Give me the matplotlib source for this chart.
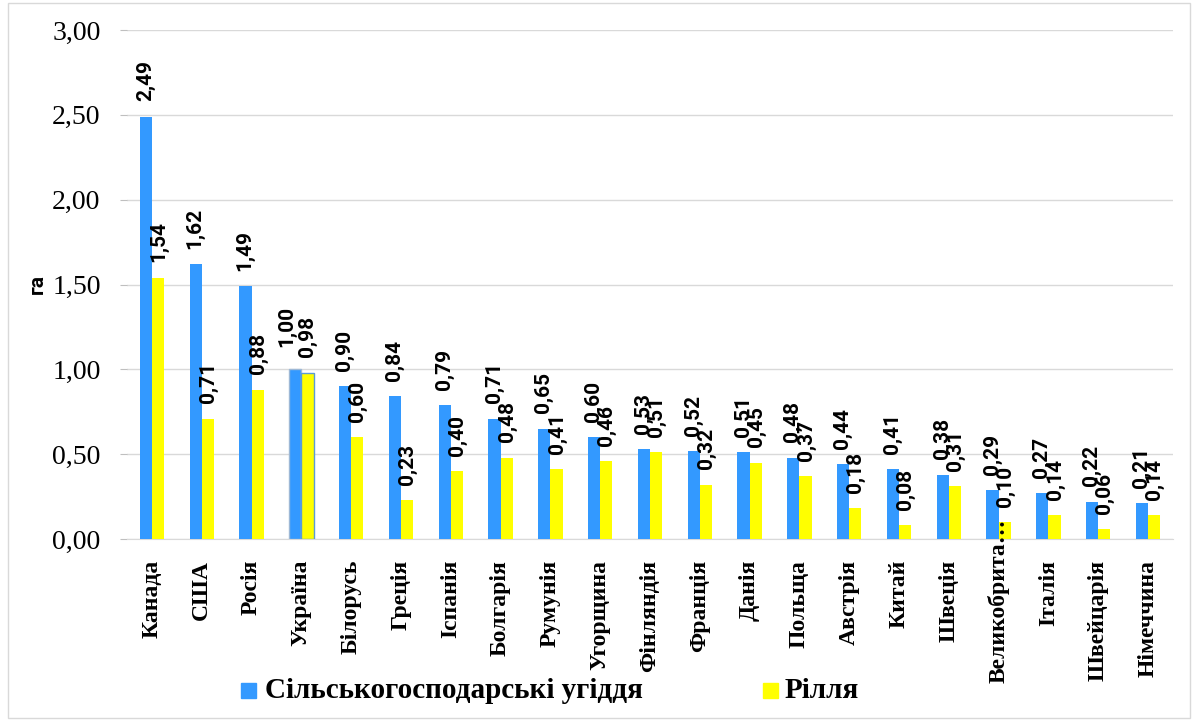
import matplotlib
matplotlib.use("Agg")
import matplotlib.pyplot as plt
from matplotlib.patches import Rectangle
from matplotlib.font_manager import FontProperties
from matplotlib.transforms import blended_transform_factory
import numpy as np

categories = ["Канада", "США", "Росія", "Україна", "Білорусь", "Греція", "Іспанія",
              "Болгарія", "Румунія", "Угорщина", "Фінляндія", "Франція", "Данія",
              "Польща", "Австрія", "Китай", "Швеція", "Великобрита…", "Італія",
              "Швейцарія", "Німеччина"]
agri = [2.49, 1.62, 1.49, 1.00, 0.90, 0.84, 0.79, 0.71, 0.65, 0.60, 0.53, 0.52, 0.51,
        0.48, 0.44, 0.41, 0.38, 0.29, 0.27, 0.22, 0.21]
arable = [1.54, 0.71, 0.88, 0.98, 0.60, 0.23, 0.40, 0.48, 0.41, 0.46, 0.51, 0.32, 0.45,
          0.37, 0.18, 0.08, 0.31, 0.10, 0.14, 0.06, 0.14]
series_names = ["Сільськогосподарські угіддя", "Рілля"]
yticks = [0, 0.5, 1.0, 1.5, 2.0, 2.5, 3.0]

blue = "#3399FF"
yellow = "#FFFF00"

serif_b = FontProperties(family="Liberation Serif", weight="bold")
serif = FontProperties(family="Liberation Serif")

fig = plt.figure(figsize=(11.92, 7.21), dpi=100)
ax = fig.add_axes([127/1192, 1-539/721, (1173-127)/1192, (539-30)/721])

x = np.arange(len(categories))
w = 0.245
b1 = ax.bar(x - w/2, agri, w, color=blue, zorder=3)
b2 = ax.bar(x + w/2, arable, w, color=yellow, zorder=3)
ui = categories.index("Україна")
b1[ui].set_edgecolor("#9DB8D6"); b1[ui].set_linewidth(1.0)
b2[ui].set_edgecolor("#5B9BD5"); b2[ui].set_linewidth(1.0)

fmt = lambda v: f"{v:.2f}".replace(".", ",")
lab_kw = dict(rotation=90, ha="center", va="bottom", fontsize=15, fontweight="bold",
              family=["Roboto", "DejaVu Sans"], zorder=4)
for i, (xi, v) in enumerate(zip(x, agri)):
    dx = -0.17 if i == ui else -0.01
    dy = 0.13 if i == ui else 0.09
    ax.text(xi - w/2 + dx, v + dy, fmt(v), **lab_kw)
for i, (xi, v) in enumerate(zip(x, arable)):
    ax.text(xi + w/2 + 0.01, v + 0.09, fmt(v), **lab_kw)

ax.set_xlim(-0.5, len(categories) - 0.5)
ax.set_ylim(0, 3.0)
ax.set_yticks(yticks)
ax.set_yticklabels([fmt(t) for t in yticks])
for t in ax.get_yticklabels():
    t.set_fontproperties(serif); t.set_fontsize(20)
ax.set_xticks(x)
ax.set_xticklabels([])
ax.tick_params(axis="x", length=0)
ax.tick_params(axis="y", length=5, color="#BFBFBF", pad=14)

# category labels (the truncated one sits higher, as in the original)
trans = blended_transform_factory(ax.transData, ax.transAxes)
for xi, c in zip(x, categories):
    if c.endswith("…"):
        t = ax.text(xi, -0.283, c, rotation=90, ha="center", va="bottom",
                    transform=trans, clip_on=False)
    else:
        t = ax.text(xi, -0.041, c, rotation=90, ha="center", va="top",
                    transform=trans, clip_on=False)
    t.set_fontproperties(serif_b); t.set_fontsize(17)

ax.grid(axis="y", color="#D9D9D9", linewidth=1, zorder=0)
for s in ["top", "right", "left"]:
    ax.spines[s].set_visible(False)
ax.spines["bottom"].set_color("#D9D9D9")
ax.set_ylabel("га", family=["Roboto", "DejaVu Sans"], fontweight="bold", fontsize=15,
              labelpad=4)

# legend
fig.patches.append(Rectangle((241/1192, 1-698/721), 15/1192, 15/721, color=blue,
                             transform=fig.transFigure))
t1 = fig.text(265/1192, 1-691/721, series_names[0], va="center", ha="left")
t1.set_fontproperties(serif_b); t1.set_fontsize(21)
fig.patches.append(Rectangle((763/1192, 1-698/721), 15/1192, 15/721, color=yellow,
                             transform=fig.transFigure))
t2 = fig.text(785/1192, 1-691/721, series_names[1], va="center", ha="left")
t2.set_fontproperties(serif_b); t2.set_fontsize(21)

# outer frame
fig.patches.append(Rectangle((8/1192, 3/721), 1182/1192, 715/721, fill=False,
                             edgecolor="#D9D9D9", linewidth=1, transform=fig.transFigure))

fig.savefig("out.png", dpi=100)
